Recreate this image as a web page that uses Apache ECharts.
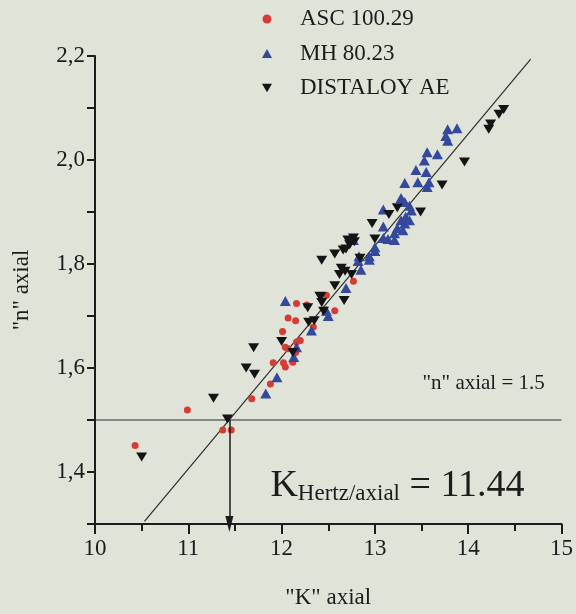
<!DOCTYPE html>
<html>
<head>
<meta charset="utf-8">
<script src="https://cdn.jsdelivr.net/npm/echarts@6.0.0/dist/echarts.min.js"></script>
<style>
  html, body { margin: 0; padding: 0; background: #dfe3d8; }
  #chart { width: 576px; height: 614px; }
</style>
</head>
<body>
<div id="chart"></div>
<script>
// ---- data ----
const seriesNames = ['ASC 100.29', 'MH 80.23', 'DISTALOY AE'];

const ascPoints = [
  [10.43,1.451],[10.99,1.519],[11.37,1.481],[11.46,1.481],[11.68,1.541],[11.88,1.569],
  [11.91,1.610],[12.02,1.610],[12.04,1.602],[12.12,1.611],[12.04,1.640],[12.07,1.637],
  [12.16,1.650],[12.20,1.653],[12.15,1.630],[12.01,1.670],[12.07,1.696],[12.15,1.691],
  [12.34,1.679],[12.16,1.724],[12.27,1.721],[12.48,1.740],[12.57,1.710],[12.77,1.767]
];

const mhPoints = [
  [11.83,1.551],[11.95,1.582],[12.04,1.729],[12.13,1.621],[12.16,1.640],[12.32,1.672],
  [12.50,1.700],[12.48,1.710],[12.69,1.754],[12.82,1.806],[12.85,1.789],[12.83,1.815],
  [12.94,1.815],[12.94,1.808],[13.00,1.825],[13.00,1.832],[12.77,1.846],[13.09,1.850],
  [13.09,1.872],[13.14,1.848],[13.21,1.846],[13.21,1.859],[13.24,1.869],[13.30,1.865],
  [13.28,1.884],[13.32,1.878],[13.33,1.891],[13.37,1.884],[13.09,1.905],[13.28,1.927],
  [13.32,1.919],[13.37,1.912],[13.39,1.903],[13.32,1.956],[13.46,1.957],[13.58,1.957],
  [13.56,1.948],[13.44,1.981],[13.55,1.977],[13.53,1.999],[13.56,2.015],[13.67,2.011],
  [13.76,2.046],[13.78,2.037],[13.78,2.059],[13.88,2.061]
];

const distaloyPoints = [
  [10.50,1.429],[11.27,1.542],[11.42,1.502],[11.62,1.600],[11.71,1.588],[11.70,1.639],
  [12.00,1.651],[12.12,1.630],[12.29,1.688],[12.35,1.691],[12.28,1.716],[12.42,1.737],
  [12.43,1.726],[12.45,1.709],[12.41,1.738],[12.67,1.730],[12.57,1.758],[12.62,1.780],
  [12.64,1.792],[12.68,1.786],[12.75,1.780],[12.43,1.807],[12.57,1.819],[12.66,1.827],
  [12.69,1.829],[12.71,1.846],[12.73,1.837],[12.77,1.850],[12.78,1.843],[12.84,1.811],
  [12.97,1.878],[13.00,1.848],[13.15,1.895],[13.24,1.908],[13.49,1.900],[13.72,1.952],
  [13.96,1.996],[14.22,2.059],[14.24,2.069],[14.33,2.088],[14.38,2.097]
];

// fitted line end points
const fitLineK = [10.53, 14.67];
const fitLineN = [1.305, 2.194];

// reference level line and result
const levelLineK = [10, 15];
const nAxialLevel = 1.5;
const kHertzAxial = 11.44;

// axis ticks
const xTickValues = [10, 11, 12, 13, 14, 15];
const xTickLabels = ['10', '11', '12', '13', '14', '15'];
const yTickValues = [1.4, 1.6, 1.8, 2.0, 2.2];
const yTickLabels = ['1,4', '1,6', '1,8', '2,0', '2,2'];

// annotation anchors (data coordinates)
const levelTextAt = [13.51, 1.570];
const resultTextAt = [11.88, 1.373];

// ---- chart ----
const FONT = "'Liberation Serif', 'Times New Roman', serif";
const INV_TRI = 'path://M0,0L20,0L10,17Z';
const INK = '#1c1c1c';

const chart = echarts.init(document.getElementById('chart'), null, { renderer: 'canvas' });

function labelFor(values, labels, v) {
  for (let i = 0; i < values.length; i++) {
    if (Math.abs(values[i] - v) < 1e-6) return labels[i];
  }
  return '';
}

const option = {
  backgroundColor: '#dfe3d8',
  animation: false,
  textStyle: { fontFamily: FONT },
  grid: { left: 95, right: 11, top: 56, bottom: 86 },
  legend: {
    data: seriesNames,
    orient: 'vertical',
    left: 257,
    top: 2,
    itemWidth: 10,
    itemHeight: 9,
    itemGap: 10.5,
    formatter: name => '{t|' + name + '}',
    textStyle: {
      fontFamily: FONT, fontSize: 23, color: INK, lineHeight: 24,
      rich: { t: { fontFamily: FONT, fontSize: 23, color: INK, lineHeight: 24, padding: [0, 0, 0, 23] } }
    }
  },
  xAxis: {
    type: 'value',
    min: 10, max: 15, interval: 1,
    name: '"K" axial',
    nameLocation: 'middle',
    nameGap: 62,
    nameTextStyle: { fontFamily: FONT, fontSize: 23, color: INK },
    axisLine: { onZero: false, lineStyle: { color: INK, width: 2 } },
    axisTick: { show: true, inside: false, length: 10, lineStyle: { color: INK, width: 2 } },
    minorTick: { show: true, splitNumber: 2, length: 7, lineStyle: { color: INK, width: 2 } },
    splitLine: { show: false },
    axisLabel: {
      fontFamily: FONT, fontSize: 23, color: INK, margin: 13,
      formatter: v => labelFor(xTickValues, xTickLabels, v)
    }
  },
  yAxis: {
    type: 'value',
    min: 1.3, max: 2.2, interval: 0.1,
    name: '"n" axial',
    nameLocation: 'middle',
    nameGap: 62,
    nameTextStyle: { fontFamily: FONT, fontSize: 23, color: INK },
    axisLine: { show: true, onZero: false, lineStyle: { color: INK, width: 2 } },
    axisTick: { show: true, inside: false, length: 8, lineStyle: { color: INK, width: 2 } },
    splitLine: { show: false },
    axisLabel: {
      fontFamily: FONT, fontSize: 23, color: INK, margin: 10,
      formatter: v => labelFor(yTickValues, yTickLabels, v)
    }
  },
  series: [
    {
      name: 'fit', type: 'line',
      data: fitLineK.map((k, i) => [k, fitLineN[i]]),
      symbol: 'none', silent: true,
      lineStyle: { color: '#2e2e2e', width: 1.2 },
      z: 1
    },
    {
      name: 'level', type: 'line',
      data: levelLineK.map(k => [k, nAxialLevel]),
      symbol: 'none', silent: true,
      lineStyle: { color: '#2e2e2e', width: 1.2 },
      z: 1,
      markLine: {
        silent: true,
        symbol: ['none', 'triangle'],
        symbolSize: [8, 16],
        label: { show: false },
        lineStyle: { color: INK, width: 1.5, type: 'solid' },
        data: [
          [ { coord: [kHertzAxial, nAxialLevel] }, { coord: [kHertzAxial, 1.3] } ]
        ]
      }
    },
    {
      name: seriesNames[0], type: 'scatter', data: ascPoints,
      symbol: 'circle', symbolSize: 7,
      itemStyle: { color: '#d63b35', opacity: 1 }, z: 3
    },
    {
      name: seriesNames[1], type: 'scatter', data: mhPoints,
      symbol: 'triangle', symbolSize: [11, 10],
      itemStyle: { color: '#34489c', opacity: 1 }, z: 3
    },
    {
      name: seriesNames[2], type: 'scatter', data: distaloyPoints,
      symbol: INV_TRI, symbolSize: [11, 9],
      itemStyle: { color: '#141414', opacity: 1 }, z: 4
    },
    {
      name: 'annotations', type: 'scatter', silent: true,
      symbolSize: 0,
      itemStyle: { color: INK, opacity: 1 },
      data: [
        { value: levelTextAt, label: { formatter: '"n" axial = ' + String(nAxialLevel), fontSize: 21, color: INK } },
        { value: resultTextAt, label: {
            formatter: '{k|K}{s|Hertz/axial}{k| = ' + kHertzAxial.toFixed(2) + '}',
            rich: {
              k: { fontFamily: FONT, fontSize: 38, lineHeight: 38, color: INK },
              s: { fontFamily: FONT, fontSize: 23, lineHeight: 19, verticalAlign: 'bottom', color: INK }
            }
        } }
      ],
      label: { show: true, position: 'right', distance: 0, fontFamily: FONT, color: INK, opacity: 1 },
      z: 5
    }
  ]
};

chart.setOption(option);
</script>
</body>
</html>
